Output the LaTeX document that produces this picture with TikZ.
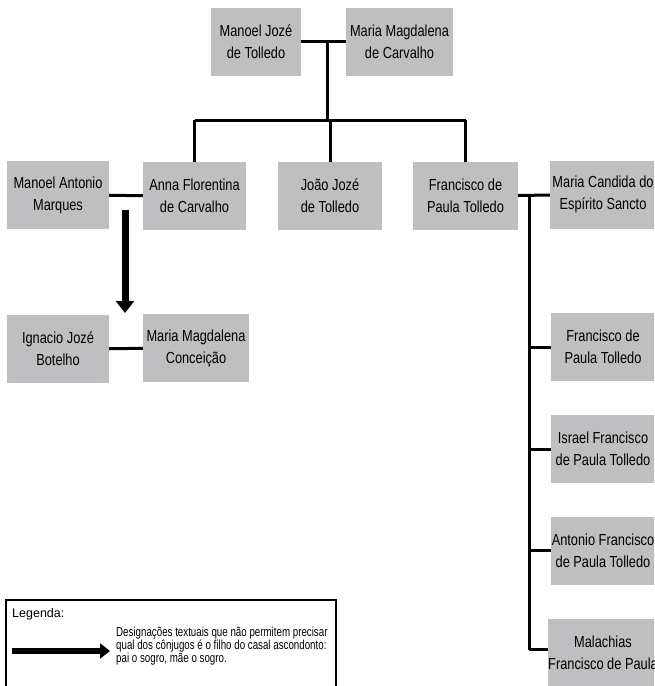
\documentclass[tikz,border=0pt]{standalone}
\usepackage{fontspec}
\setmainfont{Liberation Sans}[FakeStretch=0.8]
\newfontfamily\legfont{Liberation Sans}[FakeStretch=0.75]
\newfontfamily\plainfont{Liberation Sans}
\usetikzlibrary{arrows.meta}
\definecolor{boxgray}{RGB}{191,191,193}
\tikzset{
  person/.style={fill=boxgray, minimum width=104pt, minimum height=68pt, inner sep=0pt, align=center, font=\fontsize{16}{22}\selectfont},
  link/.style={line width=3pt},
  bigarrow/.style={line width=7pt, -{Triangle[width=18pt,length=12pt]}}
}
\begin{document}
\begin{tikzpicture}[x=1pt,y=-1pt]
\useasboundingbox (0,0) rectangle (654,686);
\clip (0,0) rectangle (654,686);
\node[person, minimum width=90pt] (pai) at (256,41.5){Manoel Jozé\\de Tolledo};
\node[person, minimum width=107pt] (mae) at (399.5,41.5){Maria Magdalena\\de Carvalho};
\coordinate (u0) at (327,42);
\coordinate (u1) at (327,120);
\draw[link](pai) -- (mae);
\draw[link](u0) -- (u1);
\node[person, minimum width=102pt] (fil0) at (58,195){Manoel Antonio\\Marques};
\node[person, minimum width=103pt] (fil1) at (194.5,196){Anna Florentina\\de Carvalho};
\node[person] (fil2) at (330,196){João Jozé\\de Tolledo};
\node[person, minimum width=105pt] (fil3) at (465.5,196){Francisco de\\Paula Tolledo};
\node[person, minimum width=106pt] (fil4) at (603,194.5){Maria Candida do\\Espírito Sancto};
\coordinate (b1) at (fil1 |- u1);
\coordinate (b3) at (fil3 |- u1);
\draw[link](b1) -- (b3);
\draw[link](b1) -- (fil1);
\draw[link](u1 -| fil2) -- (fil2);
\draw[link](b3) -- (fil3);
\draw[link](fil0) -- (fil1);
\draw[link](fil3) -- (fil4);
\node[person, minimum width=102pt] (net0) at (58,349){Ignacio Jozé\\Botelho};
\node[person, minimum width=106pt] (net1) at (196,348){Maria Magdalena\\Conceição};
\draw[link](net0) -- (net1);
\coordinate (s0) at (125,210);
\coordinate (s1) at (125,313);
\draw[bigarrow](s0) -- (s1);
\node[person] (neto0) at (603,347){Francisco de\\Paula Tolledo};
\node[person] (neto1) at (603,449){Israel Francisco\\de Paula Tolledo};
\node[person] (neto2) at (603,550.5){Antonio Francisco\\de Paula Tolledo};
\node[person] (neto3) at (603,653){Malachias\\Francisco de Paula};
\coordinate (v0) at (529,195);
\coordinate (v1) at (529,649.5);
\draw[link](v0) -- (v1);
\draw[link](v0 |- neto0) -- (neto0);
\draw[link](v0 |- neto1) -- (neto1);
\draw[link](v0 |- neto2) -- (neto2);
\draw[link](v1) -- (v1 -| neto3.west);
\draw[line width=1.5pt](6,690) -- (6,600) -- (336,600) -- (336,690);
\node[anchor=west, font=\plainfont\fontsize{12.5}{14}\selectfont, inner sep=0pt] (leg) at (12,614){Legenda:};
\node[anchor=west, align=left, font=\legfont\fontsize{13}{12.7}\selectfont, inner sep=0pt] (legtxt) at (116,646){Designações textuais que não permitem precisar\\qual dos cônjugos é o filho do casal ascondonto:\\pai o sogro, mãe o sogro.};
\coordinate (l0) at (12,651);
\coordinate (l1) at (110,651);
\draw[line width=6pt, -{Triangle[width=15pt,length=10pt]}](l0) -- (l1);
\end{tikzpicture}
\end{document}
